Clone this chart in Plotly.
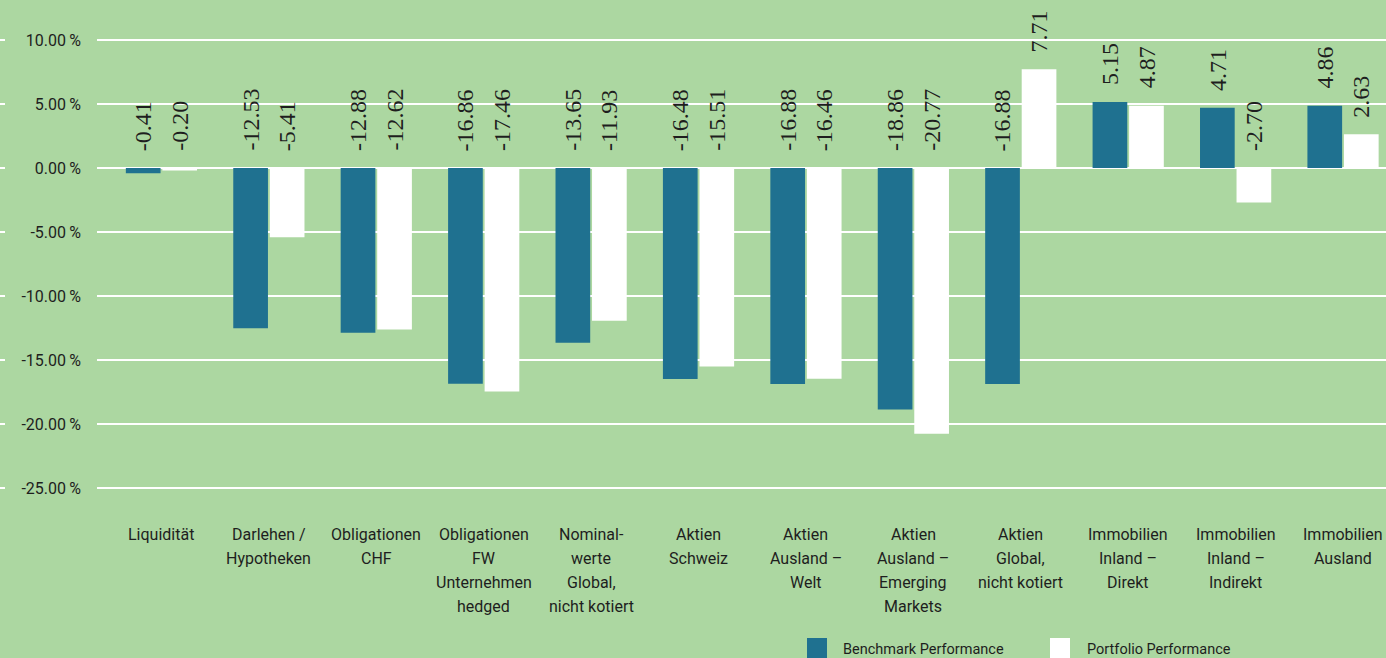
import plotly.graph_objects as go

categories = [
    "Liquidität",
    "Darlehen /<br>Hypotheken",
    "Obligationen<br>CHF",
    "Obligationen<br>FW<br>Unternehmen<br>hedged",
    "Nominal-<br>werte<br>Global,<br>nicht kotiert",
    "Aktien<br>Schweiz",
    "Aktien<br>Ausland –<br>Welt",
    "Aktien<br>Ausland –<br>Emerging<br>Markets",
    "Aktien<br>Global,<br>nicht kotiert",
    "Immobilien<br>Inland –<br>Direkt",
    "Immobilien<br>Inland –<br>Indirekt",
    "Immobilien<br>Ausland",
]
benchmark = [-0.41, -12.53, -12.88, -16.86, -13.65, -16.48, -16.88, -18.86, -16.88, 5.15, 4.71, 4.86]
portfolio = [-0.20, -5.41, -12.62, -17.46, -11.93, -15.51, -16.46, -20.77, 7.71, 4.87, -2.70, 2.63]
y_ticks = [10, 5, 0, -5, -10, -15, -20, -25]
series_names = ["Benchmark Performance", "Portfolio Performance"]

BG = "#acd7a1"
BLUE = "#1f7190"
WHITE = "#ffffff"
TXT = "#1e1e1e"

W, H = 1386, 658
ML, MB = 97, 148
PW, PH = W - ML, H - MB

x_idx = list(range(len(categories)))

fig = go.Figure()
fig.add_trace(go.Bar(x=x_idx, y=benchmark, name=series_names[0], marker=dict(color=BLUE, line=dict(width=0))))
fig.add_trace(go.Bar(x=x_idx, y=portfolio, name=series_names[1], marker=dict(color=WHITE, line=dict(width=0))))

annotations = []
for vals, shift in ((benchmark, -18.3), (portfolio, 18.3)):
    for i, v in enumerate(vals):
        annotations.append(dict(
            x=i, y=max(v, 0), xref="x", yref="y", text=f"{v:.2f}", showarrow=False,
            textangle=-90, xanchor="center", yanchor="bottom", xshift=shift, yshift=15,
            font=dict(family="Liberation Serif", size=24, color=TXT),
        ))

def px_x(p):
    return (p - ML) / PW

def px_y(p):
    return (PH - p) / PH

# category labels, one annotation per line (line pitch 24 px)
for i, cat in enumerate(categories):
    for k, line in enumerate(cat.split("<br>")):
        annotations.append(dict(
            x=i, y=px_y(534 + 24 * k), xref="x", yref="paper", text=line, showarrow=False,
            xanchor="center", yanchor="middle",
            font=dict(family="Roboto", size=16, color=TXT),
        ))

shapes = []
for t in y_ticks:
    shapes.append(dict(type="line", xref="paper", yref="y", x0=px_x(0), x1=px_x(5), y0=t, y1=t,
                       line=dict(color=WHITE, width=2)))

# legend
leg = [(807, BLUE, 841, series_names[0]), (1050, WHITE, 1085, series_names[1])]
for sx, col, tx, name in leg:
    shapes.append(dict(type="rect", xref="paper", yref="paper", x0=px_x(sx), x1=px_x(sx + 20),
                       y0=px_y(638), y1=px_y(660), fillcolor=col, line=dict(width=0)))
    annotations.append(dict(x=px_x(tx), y=px_y(649), xref="paper", yref="paper", text=name,
                            showarrow=False, xanchor="left", yanchor="middle",
                            font=dict(family="Roboto", size=14.5, color=TXT)))

fig.update_layout(
    width=W, height=H,
    margin=dict(l=ML, r=0, t=0, b=MB, autoexpand=False),
    paper_bgcolor=BG, plot_bgcolor=BG,
    barmode="group", bargap=0.32, bargroupgap=0.05,
    showlegend=False,
    font=dict(family="Roboto", size=16, color=TXT),
    annotations=annotations, shapes=shapes,
)
fig.update_xaxes(
    tickmode="array", tickvals=x_idx, showticklabels=False, range=[-0.6, 11.4],
    showgrid=False, zeroline=False, showline=False, ticks="", automargin=False,
)
fig.update_yaxes(
    range=[-26.72, 13.125], tickvals=y_ticks, ticktext=[f"{t:.2f}\u2009%" for t in y_ticks],
    showgrid=True, gridcolor=WHITE, gridwidth=2, zeroline=True, zerolinecolor=WHITE, zerolinewidth=2,
    showline=False, ticks="", ticklabelstandoff=15,
    tickfont=dict(family="Roboto", size=16, color=TXT), automargin=False,
)

fig.write_html(
    "out.html",
    config={"displayModeBar": False},
    post_script="document.body.style.margin='0';document.body.style.background='%s';" % BG,
)
